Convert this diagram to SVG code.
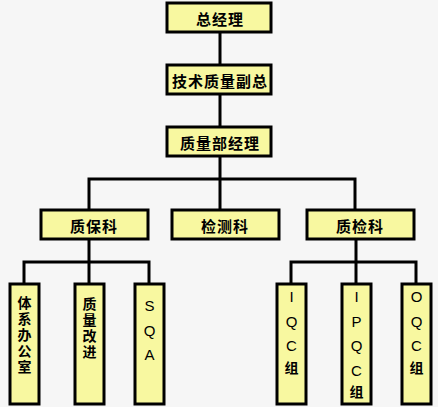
<svg xmlns="http://www.w3.org/2000/svg" width="438" height="407" viewBox="0 0 438 407">
<style>
.box{fill:#f8f8a0;stroke:#000;stroke-width:3}
.t{font-family:"Noto Sans CJK SC","Noto Sans CJK JP",sans-serif;font-weight:bold;font-size:15px;fill:#000;text-anchor:middle;dominant-baseline:central;letter-spacing:1px}
.v{font-family:"Noto Sans CJK SC","Noto Sans CJK JP",sans-serif;font-weight:bold;font-size:14px;fill:#000;writing-mode:vertical-rl;letter-spacing:2px}
.l{font-family:"Liberation Sans",Arial,sans-serif;font-size:15px;fill:#000;text-anchor:middle;dominant-baseline:central}
.c{fill:none;stroke:#000;stroke-width:3}
</style>
<rect width="438" height="407" fill="#f6f6f6"/>
<g id="connectors">
<path class="c" d="M220 32V65M220 94V127M220 156V210M89 210V179H355V210M89 239V284M24 284V262H149V284M356 239V284M291 284V262H416V284"/>
</g>
<g id="n1"><rect class="box" x="167" y="3" width="104" height="29"/><text class="t" x="220" y="18">总经理</text></g>
<g id="n2"><rect class="box" x="167" y="65" width="104" height="29"/><text class="t" x="220" y="80">技术质量副总</text></g>
<g id="n3"><rect class="box" x="167" y="127" width="104" height="29"/><text class="t" x="220" y="142">质量部经理</text></g>
<g id="n4"><rect class="box" x="41" y="210" width="107" height="29"/><text class="t" x="94" y="225">质保科</text></g>
<g id="n5"><rect class="box" x="172" y="210" width="107" height="29"/><text class="t" x="225" y="225">检测科</text></g>
<g id="n6"><rect class="box" x="307" y="210" width="107" height="29"/><text class="t" x="360" y="225">质检科</text></g>
<g id="n7"><rect class="box" x="10" y="284" width="29" height="120"/>
<text class="v" x="24.5" y="296">体系办公室</text></g>
<g id="n8"><rect class="box" x="75" y="284" width="29" height="120"/>
<text class="v" x="89.5" y="297">质量改进</text></g>
<g id="n9"><rect class="box" x="135" y="284" width="29" height="120"/>
<text class="l" x="149.5" y="305">S</text><text class="l" x="149.5" y="330">Q</text><text class="l" x="149.5" y="354">A</text></g>
<g id="n10"><rect class="box" x="277" y="284" width="29" height="120"/>
<text class="l" x="291.5" y="296">I</text><text class="l" x="291.5" y="321">Q</text><text class="l" x="291.5" y="345">C</text><text class="v" x="291.5" y="361">组</text></g>
<g id="n11"><rect class="box" x="342" y="284" width="29" height="120"/>
<text class="l" x="356.5" y="296">I</text><text class="l" x="356.5" y="321">P</text><text class="l" x="356.5" y="345">Q</text><text class="l" x="356.5" y="370">C</text><text class="v" x="356.5" y="385">组</text></g>
<g id="n12"><rect class="box" x="402" y="284" width="29" height="120"/>
<text class="l" x="416.5" y="296">O</text><text class="l" x="416.5" y="321">Q</text><text class="l" x="416.5" y="345">C</text><text class="v" x="416.5" y="361">组</text></g>
</svg>
